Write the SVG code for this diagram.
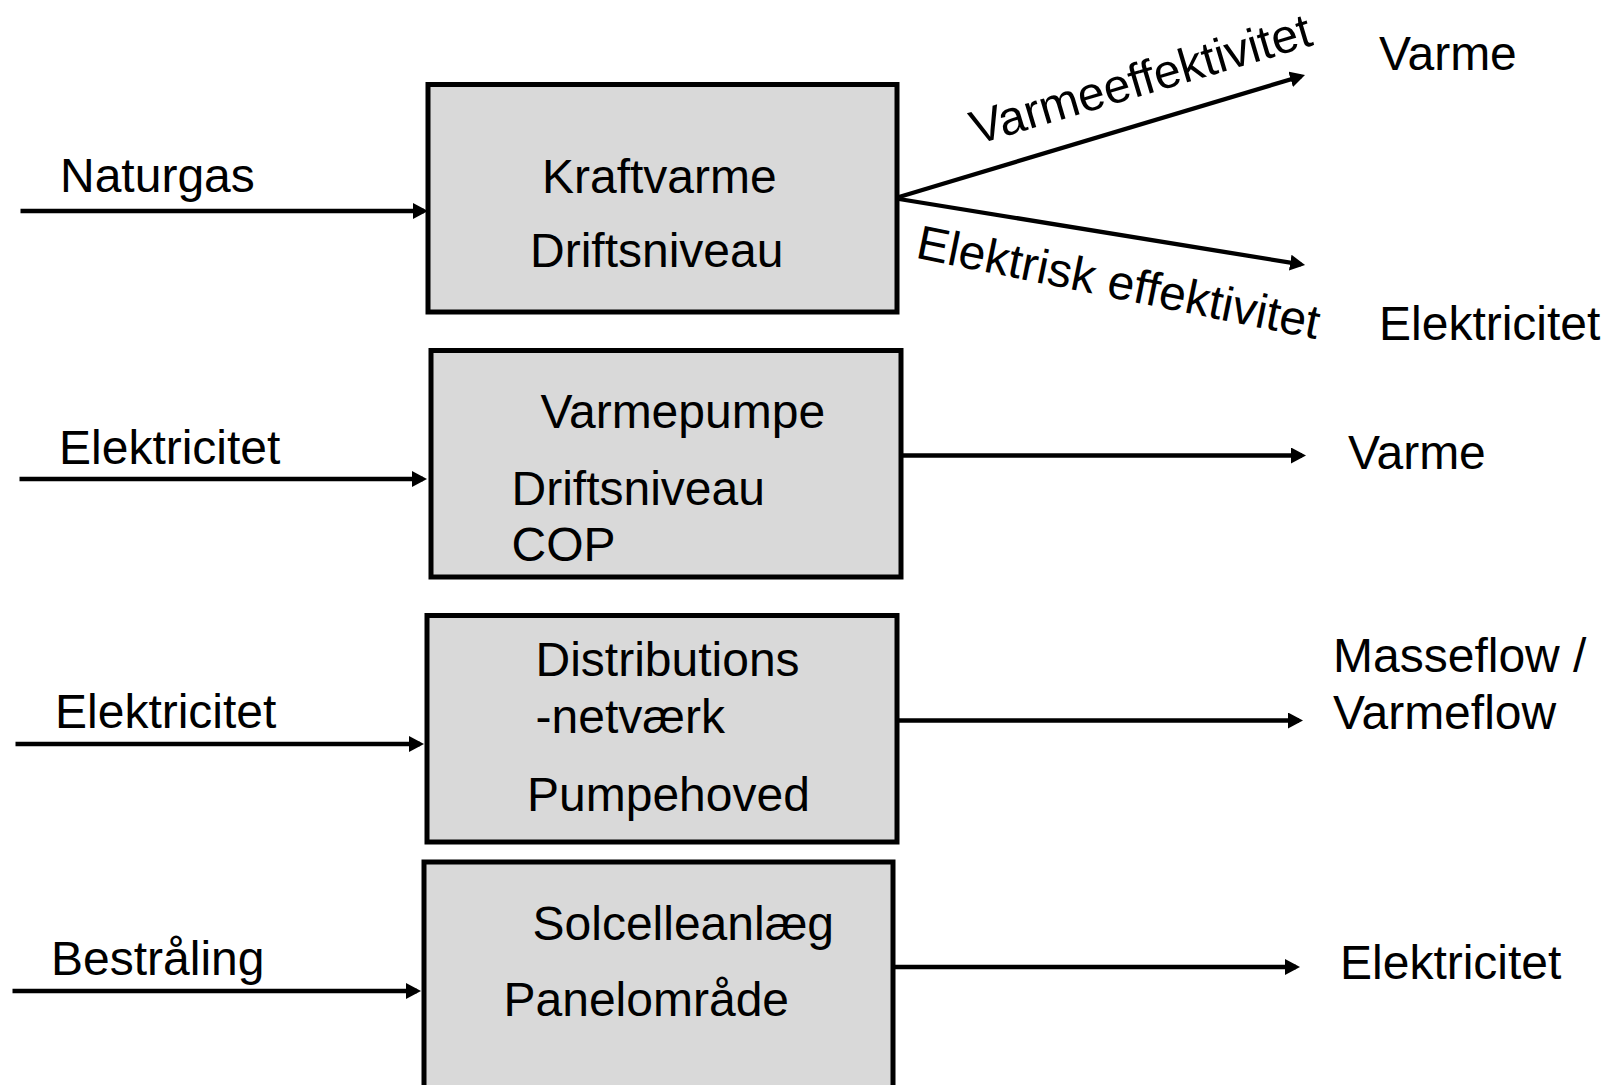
<svg xmlns="http://www.w3.org/2000/svg" width="1616" height="1085" viewBox="0 0 1616 1085">
  <style>
    .box { fill: #d9d9d9; stroke: #000; stroke-width: 5; }
    .lbl { font-family: "Liberation Sans", Arial, sans-serif; font-size: 48px; fill: #000; }
    .flow { stroke: #000; stroke-width: 4.3; fill: none; marker-end: url(#head); }
  </style>
  <defs>
    <marker id="head" markerUnits="userSpaceOnUse" markerWidth="16" markerHeight="16" refX="11" refY="8" orient="auto">
      <path d="M0,0 L15,8 L0,16 Z" fill="#000"/>
    </marker>
  </defs>
  <rect width="1616" height="1085" fill="#fff"/>

  <!-- Combined heat and power unit -->
  <g id="kraftvarme">
    <rect class="box" x="428" y="84.5" width="469" height="227.5"/>
    <text class="lbl" x="542" y="193">Kraftvarme</text>
    <text class="lbl" x="530" y="267">Driftsniveau</text>
  </g>

  <!-- Heat pump -->
  <g id="varmepumpe">
    <rect class="box" x="431" y="350.5" width="470" height="226.5"/>
    <text class="lbl" x="540.5" y="427.5">Varmepumpe</text>
    <text class="lbl" x="511.5" y="505">Driftsniveau</text>
    <text class="lbl" x="511.5" y="560.5">COP</text>
  </g>

  <!-- Distribution network -->
  <g id="distribution">
    <rect class="box" x="427" y="615.5" width="470" height="226.5"/>
    <text class="lbl" x="535.5" y="676">Distributions</text>
    <text class="lbl" x="535.5" y="732.5">-netværk</text>
    <text class="lbl" x="527" y="811">Pumpehoved</text>
  </g>

  <!-- Photovoltaic plant -->
  <g id="solcelle">
    <rect class="box" x="424" y="862" width="469" height="250"/>
    <text class="lbl" x="532.5" y="940">Solcelleanlæg</text>
    <text class="lbl" x="503.5" y="1016">Panelområde</text>
  </g>

  <!-- Flows in and out -->
  <g id="connectors">
    <line class="flow" x1="20.5" y1="211" x2="424" y2="211"/>
    <line class="flow" x1="19.5" y1="479" x2="423" y2="479"/>
    <line class="flow" x1="15.5" y1="744" x2="420" y2="744"/>
    <line class="flow" x1="12.5" y1="991" x2="417" y2="991"/>

    <line class="flow" x1="899" y1="197" x2="1301.2" y2="76.2"/>
    <line class="flow" x1="899" y1="199" x2="1301.1" y2="264.4"/>
    <line class="flow" x1="901" y1="455.5" x2="1302" y2="455.5"/>
    <line class="flow" x1="897" y1="720.5" x2="1299" y2="720.5"/>
    <line class="flow" x1="893" y1="967" x2="1296" y2="967"/>
  </g>

  <!-- Flow labels -->
  <g id="labels">
    <text class="lbl" x="60" y="192">Naturgas</text>
    <text class="lbl" x="59" y="464">Elektricitet</text>
    <text class="lbl" x="55" y="727.5">Elektricitet</text>
    <text class="lbl" x="51" y="975">Bestråling</text>

    <text class="lbl" font-size="51" transform="translate(976,145) rotate(-16.5)">Varmeeffektivitet</text>
    <text class="lbl" font-size="49" transform="translate(914.5,257.5) rotate(11.5)">Elektrisk effektivitet</text>

    <text class="lbl" x="1379" y="70">Varme</text>
    <text class="lbl" x="1379" y="340">Elektricitet</text>
    <text class="lbl" x="1348" y="469">Varme</text>
    <text class="lbl" x="1333" y="672">Masseflow /</text>
    <text class="lbl" x="1333" y="728.5">Varmeflow</text>
    <text class="lbl" x="1340" y="979">Elektricitet</text>
  </g>
</svg>
